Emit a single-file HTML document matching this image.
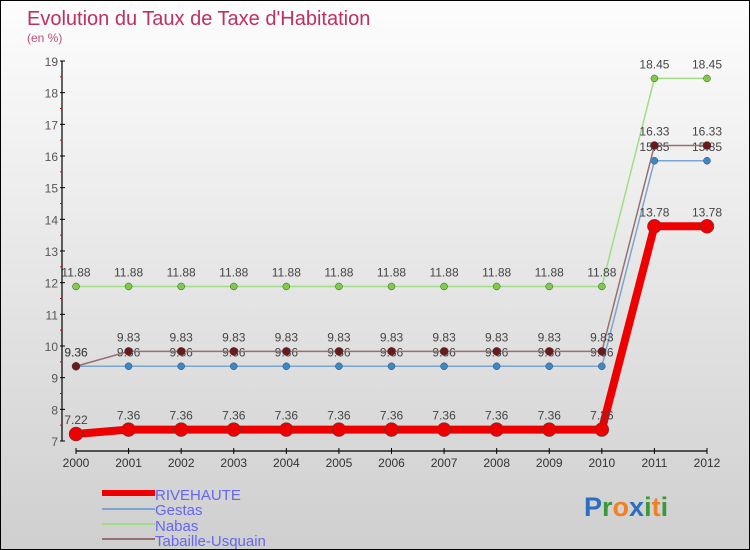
<!DOCTYPE html>
<html><head><meta charset="utf-8"><style>
body{margin:0}
#c{width:748px;height:548px;border:1px solid #000;background:linear-gradient(#fdfdfd,#cfcfcf);position:relative;font-family:"Liberation Sans",sans-serif;overflow:hidden}
</style></head><body>
<div id="c">
<svg id="s" width="748" height="548" style="position:absolute;left:0;top:0">
<text x="26" y="24" font-size="20" fill="#c0305f">Evolution du Taux de Taxe d'Habitation</text>
<text x="26" y="41" font-size="12" fill="#c0507a">(en %)</text>
<g id="ax"></g><g id="series"></g>
<g>
<line x1="101" y1="492" x2="154" y2="492" stroke="#ee0000" stroke-width="6"/>
<text x="154" y="499" font-size="15" fill="#6666ee">RIVEHAUTE</text>
<line x1="101" y1="508" x2="154" y2="508" stroke="#7aa6cf" stroke-width="2"/>
<text x="154" y="514" font-size="15" fill="#6666ee">Gestas</text>
<line x1="101" y1="523" x2="154" y2="523" stroke="#a0dd88" stroke-width="2"/>
<text x="154" y="530" font-size="15" fill="#6666ee">Nabas</text>
<line x1="101" y1="538" x2="154" y2="538" stroke="#997070" stroke-width="2"/>
<text x="154" y="545" font-size="15" fill="#6666ee">Tabaille-Usquain</text>
</g>
<text x="583" y="515" font-size="27" font-weight="bold"><tspan fill="#2a6fc0">P</tspan><tspan fill="#3a9a3a">r</tspan><tspan fill="#f08020">o</tspan><tspan fill="#2a6fc0">x</tspan><tspan fill="#3a9a3a">i</tspan><tspan fill="#f08020">t</tspan><tspan fill="#3a9a3a">i</tspan></text>
</svg>
</div>
<script>
const years=[2000,2001,2002,2003,2004,2005,2006,2007,2008,2009,2010,2011,2012];
const rivehaute=[7.22,7.36,7.36,7.36,7.36,7.36,7.36,7.36,7.36,7.36,7.36,13.78,13.78];
const gestas=[9.36,9.36,9.36,9.36,9.36,9.36,9.36,9.36,9.36,9.36,9.36,15.85,15.85];
const nabas=[11.88,11.88,11.88,11.88,11.88,11.88,11.88,11.88,11.88,11.88,11.88,18.45,18.45];
const tabaille=[9.36,9.83,9.83,9.83,9.83,9.83,9.83,9.83,9.83,9.83,9.83,16.33,16.33];
const yTicks=[7,8,9,10,11,12,13,14,15,16,17,18,19];
const NS="http://www.w3.org/2000/svg";
const X=i=>75+i*(706-75)/(years.length-1);
const Y=v=>440-(v-7)*(380/12);
function mk(t,a,p){const e=document.createElementNS(NS,t);for(const k in a)e.setAttribute(k,a[k]);p.appendChild(e);return e;}
const ax=document.getElementById('ax');
mk('line',{x1:61,y1:Y(19),x2:61,y2:Y(7),stroke:'#000','stroke-width':1.2},ax);
mk('line',{x1:75,y1:450,x2:706,y2:450,stroke:'#000','stroke-width':1.2},ax);
yTicks.forEach(v=>{
 mk('line',{x1:59,y1:Y(v),x2:64,y2:Y(v),stroke:'#000'},ax);
 if(v<19)mk('line',{x1:59,y1:Y(v+0.5),x2:61,y2:Y(v+0.5),stroke:'#e00'},ax);
 const t=mk('text',{x:57,y:Y(v)+5,'font-size':12,fill:'#555','text-anchor':'end'},ax);t.textContent=v;
 
 
});
years.forEach((y,i)=>{
 mk('line',{x1:X(i),y1:447,x2:X(i),y2:453,stroke:'#000'},ax);
 const t=mk('text',{x:X(i),y:466,'font-size':12,fill:'#333','text-anchor':'middle'},ax);t.textContent=y;
 
 
});
const sg=document.getElementById('series');
function draw(name,vals,color,lw,r,mc){
 const g=mk('g',{},sg);
 
 
 mk('polyline',{points:vals.map((v,i)=>X(i)+','+Y(v)).join(' '),fill:'none',stroke:color,'stroke-width':lw},g);
 vals.forEach((v,i)=>{
  const c=mk('circle',{cx:X(i),cy:Y(v),r:r,fill:mc,stroke:'#444','stroke-width':0.5},g);
  
  
  const t=mk('text',{x:X(i),y:Y(v)-10,'font-size':12,fill:'#444','text-anchor':'middle'},g);t.textContent=v.toFixed(2).replace(/0$/,'').replace(/\.$/,'');
  
  
 });
}
draw('nabas',nabas,'#a0dd88',1.5,3.5,'#7ccc44');
draw('gestas',gestas,'#7aa6cf',1.5,3.5,'#3a88cc');
draw('tabaille-usquain',tabaille,'#997070',1.5,4,'#6a1a1a');
draw('rivehaute',rivehaute,'#ee0000',8,7,'#ee0000');
</script>
</body></html>
